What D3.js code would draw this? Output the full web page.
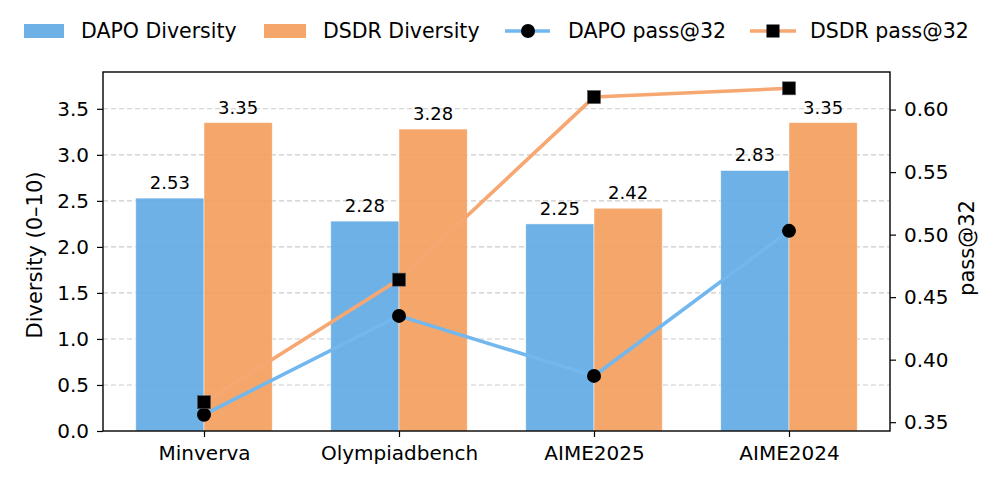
<!DOCTYPE html>
<html>
<head>
<meta charset="utf-8">
<script src="https://cdn.jsdelivr.net/npm/d3@7"></script>
<style>
  body { margin: 0; background: #fff; }
  svg { font-family: "DejaVu Sans", sans-serif; }
</style>
</head>
<body>
<div class="chart"></div>
<script>
const categories = ["Minverva", "Olympiadbench", "AIME2025", "AIME2024"];
const dapoDiversity = [2.53, 2.28, 2.25, 2.83];
const dsdrDiversity = [3.35, 3.28, 2.42, 3.35];
const dapoPass = [0.356, 0.435, 0.387, 0.503];
const dsdrPass = [0.366, 0.464, 0.610, 0.617];
const leftTicks = [0, 0.5, 1.0, 1.5, 2.0, 2.5, 3.0, 3.5];
const rightTicks = [0.35, 0.40, 0.45, 0.50, 0.55, 0.60];

const width = 996;
const height = 481;
const plotL = 103, plotR = 890, plotT = 72, plotB = 431;
const blue = "#5EA8E3";
const orange = "#F49C5B";
const blueLine = "#72B7EE";
const orangeLine = "#F7A772";
const barW = 0.35;

const svg = d3.select(".chart")
              .append("svg")
              .attr("width", width)
              .attr("height", height);

const x = d3.scaleLinear().domain([-0.518, 3.518]).range([plotL, plotR]);
const yL = d3.scaleLinear().domain([0, 3.9]).range([plotB, plotT]);

const allPass = dapoPass.concat(dsdrPass);
const pMin = d3.min(allPass), pMax = d3.max(allPass);
const pad = (pMax - pMin) * 0.05;
const yR = d3.scaleLinear().domain([pMin - pad, pMax + pad]).range([plotB, plotT]);

// grid
svg.selectAll("line.grid")
  .data(leftTicks.slice(1))
  .enter()
  .append("line")
  .attr("class", "grid")
  .attr("x1", plotL)
  .attr("x2", plotR)
  .attr("y1", d => yL(d))
  .attr("y2", d => yL(d))
  .attr("stroke", "#cccccc")
  .attr("stroke-width", 1.1)
  .attr("stroke-dasharray", "5,3");

// bars
const series = [
  { vals: dapoDiversity, color: blue, off: -barW },
  { vals: dsdrDiversity, color: orange, off: 0 }
];

series.forEach(s => {
  svg.selectAll(null)
    .data(s.vals)
    .enter()
    .append("rect")
    .attr("x", (d, i) => x(i + s.off))
    .attr("y", d => yL(d))
    .attr("width", x(barW) - x(0))
    .attr("height", d => plotB - yL(d))
    .attr("fill", s.color)
    .attr("fill-opacity", 0.9)
    .attr("stroke", "#ffffff")
    .attr("stroke-opacity", 0.6)
    .attr("stroke-width", 0.8);

  svg.selectAll(null)
    .data(s.vals)
    .enter()
    .append("text")
    .attr("x", (d, i) => x(i + s.off + barW / 2))
    .attr("y", d => yL(d) - 9)
    .attr("text-anchor", "middle")
    .style("font-size", "18px")
    .text(d => d.toFixed(2));
});

// axes
const axL = svg.append("g")
  .attr("transform", `translate(${plotL},0)`)
  .call(d3.axisLeft(yL).tickValues(leftTicks).tickFormat(d3.format(".1f")).tickSize(6).tickPadding(8));
const axR = svg.append("g")
  .attr("transform", `translate(${plotR},0)`)
  .call(d3.axisRight(yR).tickValues(rightTicks).tickFormat(d3.format(".2f")).tickSize(6).tickPadding(8));
const axB = svg.append("g")
  .attr("transform", `translate(0,${plotB})`)
  .call(d3.axisBottom(x).tickValues(d3.range(categories.length)).tickFormat(i => categories[i]).tickSize(6).tickPadding(9));

[axL, axR, axB].forEach(a => {
  a.selectAll("text").style("font-size", "20px").attr("fill", "#000").style("font-family", "DejaVu Sans");
  a.selectAll("line").attr("stroke", "#000").attr("stroke-width", 1.2);
  a.select(".domain").remove();
});

// frame
svg.append("rect")
  .attr("x", plotL)
  .attr("y", plotT)
  .attr("width", plotR - plotL)
  .attr("height", plotB - plotT)
  .attr("fill", "none")
  .attr("stroke", "#000")
  .attr("stroke-width", 1.4);

svg.append("text")
  .attr("transform", `translate(42,255) rotate(-90)`)
  .attr("text-anchor", "middle")
  .style("font-size", "21px")
  .text("Diversity (0\u201310)");

svg.append("text")
  .attr("transform", `translate(974,248) rotate(-90)`)
  .attr("text-anchor", "middle")
  .style("font-size", "21px")
  .text("pass@32");

// lines
const lines = [
  { vals: dapoPass, color: blueLine, shape: "circle" },
  { vals: dsdrPass, color: orangeLine, shape: "square" }
];

lines.forEach(l => {
  const line = d3.line().x((d, i) => x(i)).y(d => yR(d));
  svg.append("path")
    .datum(l.vals)
    .attr("d", line)
    .attr("fill", "none")
    .attr("stroke", l.color)
    .attr("stroke-width", 3.6);

  if (l.shape === "circle") {
    svg.selectAll(null)
      .data(l.vals)
      .enter()
      .append("circle")
      .attr("cx", (d, i) => x(i))
      .attr("cy", d => yR(d))
      .attr("r", 7)
      .attr("fill", "#000");
  } else {
    svg.selectAll(null)
      .data(l.vals)
      .enter()
      .append("rect")
      .attr("x", (d, i) => x(i) - 6.5)
      .attr("y", d => yR(d) - 6.5)
      .attr("width", 13)
      .attr("height", 13)
      .attr("fill", "#000")
      .attr("stroke", "#555")
      .attr("stroke-width", 0.6);
  }
});

// legend
const leg = svg.append("g");
const legY = 31;
leg.append("rect").attr("x", 24).attr("y", legY - 7).attr("width", 40).attr("height", 14).attr("fill", blue).attr("fill-opacity", 0.9);
leg.append("text").attr("x", 81).attr("y", legY + 7).style("font-size", "20.5px").text("DAPO Diversity");
leg.append("rect").attr("x", 264).attr("y", legY - 7).attr("width", 42).attr("height", 14).attr("fill", orange).attr("fill-opacity", 0.9);
leg.append("text").attr("x", 323).attr("y", legY + 7).style("font-size", "20.5px").text("DSDR Diversity");

leg.append("line").attr("x1", 505).attr("x2", 550).attr("y1", legY).attr("y2", legY).attr("stroke", blueLine).attr("stroke-width", 3.6);
leg.append("circle").attr("cx", 528).attr("cy", legY).attr("r", 7).attr("fill", "#000");
leg.append("text").attr("x", 568).attr("y", legY + 7).style("font-size", "20.5px").text("DAPO pass@32");

leg.append("line").attr("x1", 750).attr("x2", 796).attr("y1", legY).attr("y2", legY).attr("stroke", orangeLine).attr("stroke-width", 3.6);
leg.append("rect").attr("x", 766.5).attr("y", legY - 6.5).attr("width", 13).attr("height", 13).attr("fill", "#000");
leg.append("text").attr("x", 810).attr("y", legY + 7).style("font-size", "20.5px").text("DSDR pass@32");
</script>
</body>
</html>
